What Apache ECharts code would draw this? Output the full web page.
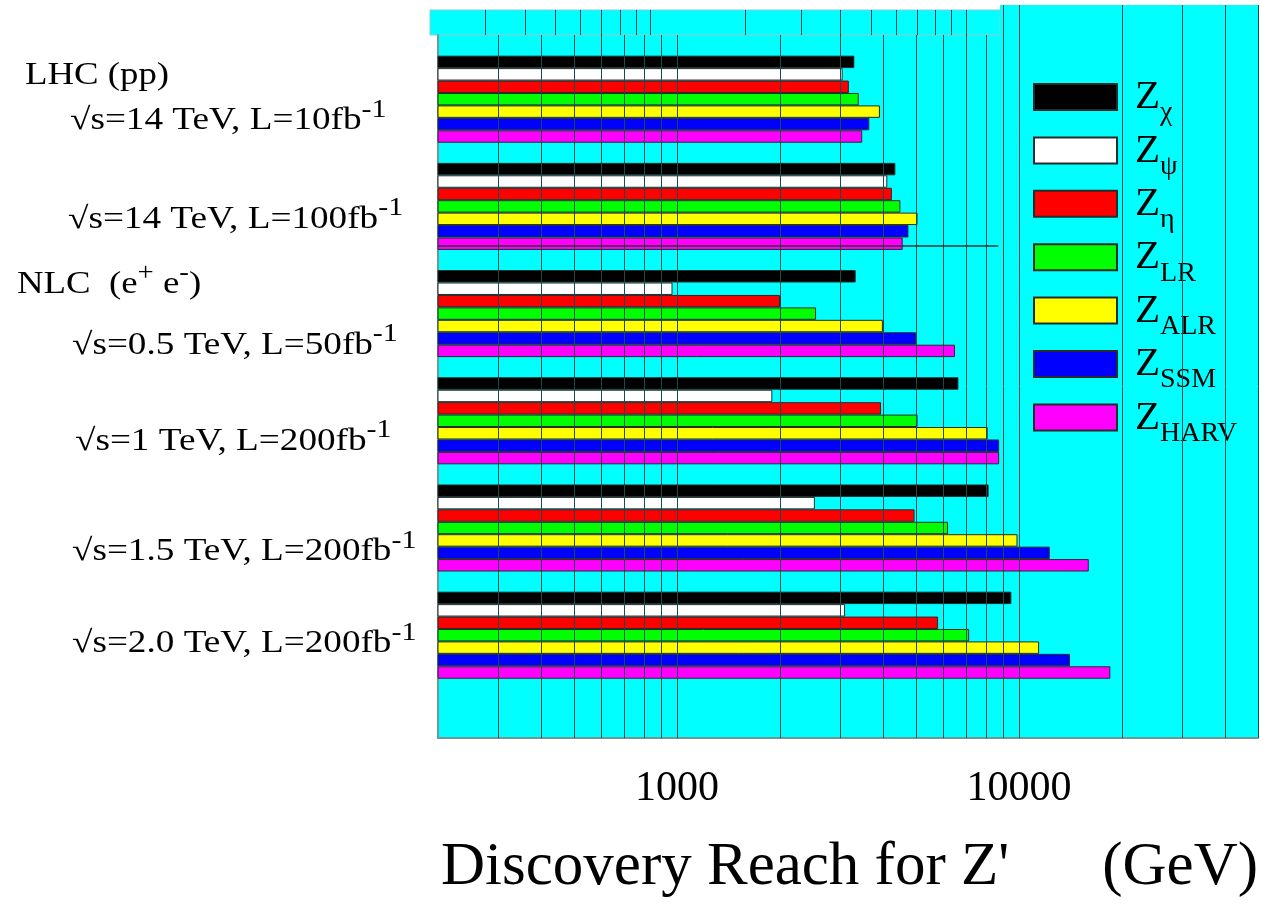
<!DOCTYPE html>
<html><head><meta charset="utf-8">
<script src="https://cdn.jsdelivr.net/npm/echarts@6/dist/echarts.min.js"></script>
<style>html,body{margin:0;padding:0;background:#fff}#c{width:1263px;height:910px}</style>
</head><body><div id="c"></div>
<script>
// ---------------- data ----------------
const categories = ['LHC 14TeV 10fb-1', 'LHC 14TeV 100fb-1', 'NLC 0.5TeV 50fb-1', 'NLC 1TeV 200fb-1', 'NLC 1.5TeV 200fb-1', 'NLC 2.0TeV 200fb-1'];
const categoryText = [
  ['√s=14 TeV, L=10fb', '-1'],
  ['√s=14 TeV, L=100fb', '-1'],
  ['√s=0.5 TeV, L=50fb', '-1'],
  ['√s=1 TeV, L=200fb', '-1'],
  ['√s=1.5 TeV, L=200fb', '-1'],
  ['√s=2.0 TeV, L=200fb', '-1']
];
const modelSubs = ['χ', 'ψ', 'η', 'LR', 'ALR', 'SSM', 'HARV'];
const modelNames = modelSubs.map(s => 'Z' + s);
const Zchi  = [3300, 4350, 3330, 6650, 8150, 9500];
const Zpsi  = [3050, 4120, 970, 1900, 2530, 3100];
const Zeta  = [3180, 4250, 2000, 3950, 4950, 5800];
const ZLR   = [3400, 4500, 2550, 5050, 6200, 7150];
const ZALR  = [3920, 5050, 4000, 8100, 9900, 11450];
const ZSSM  = [3650, 4750, 5000, 8750, 12300, 14100];
const ZHARV = [3480, 4570, 6500, 8750, 16000, 18500];
const seriesValues = [Zchi, Zpsi, Zeta, ZLR, ZALR, ZSSM, ZHARV];
const xTickLabels = [1000, 10000];
const gridLineValues = [300, 400, 500, 600, 700, 800, 900, 1000,
  2000, 3000, 4000, 5000, 6000, 7000, 8000, 9000, 10000,
  20000, 30000, 40000, 50000];

// ---------------- style / layout ----------------
const FONT = "'Liberation Serif','Times New Roman',serif";
const colors = ['#000000', '#ffffff', '#ff0000', '#00ff00', '#ffff00', '#0000ff', '#ff00ff'];
const CYAN = '#00ffff';
const GRIDLINE = '#1f4a4a';
const labelLeft = [70, 68, 72, 75, 72, 72];
const labelBaselineOffset = [28, 19, 38, 27, 30, 15];

function gridSeries(xi, lo, hi) {
  return {
    type: 'line', xAxisIndex: xi, yAxisIndex: xi, data: [], silent: true, z: 1,
    markLine: {
      silent: true, animation: false, symbol: ['none', 'none'], label: { show: false },
      lineStyle: { color: GRIDLINE, width: 1, type: 'solid' },
      data: gridLineValues.filter(v => v >= lo && v <= hi).map(v => ({ xAxis: v }))
    }
  };
}

const mainGrid = gridSeries(0, 200, 50000);
mainGrid.markLine.data.push([
  { coord: [200, 30], lineStyle: { color: '#333', width: 1.5 } },
  { coord: [8700, 30] }
]);

const barSeries = modelNames.map((n, i) => ({
  name: n, type: 'bar', xAxisIndex: 1, yAxisIndex: 1, z: 3,
  data: seriesValues[i], barGap: '0%', barCategoryGap: '18.8%',
  itemStyle: { color: colors[i], borderColor: '#2a2a2a', borderWidth: 1 }
}));

const chart = echarts.init(document.getElementById('c'), null, { renderer: 'canvas' });
const option = {
  animation: false,
  backgroundColor: '#ffffff',
  title: [
    { text: "Discovery Reach for Z'", left: 441, top: 837, padding: 0,
      textStyle: { fontFamily: FONT, fontSize: 61, fontWeight: 'normal', color: '#000' } },
    { text: '(GeV)', right: 5, top: 837, padding: 0,
      textStyle: { fontFamily: FONT, fontSize: 61, fontWeight: 'normal', color: '#000' } }
  ],
  grid: [
    { left: 438, right: 5, top: 35, bottom: 172, show: true, backgroundColor: CYAN, borderWidth: 0 },
    { left: 438, right: 5, top: 45.6, bottom: 221.2, show: false },
    { left: 430, right: 263, top: 10, height: 25, show: true, backgroundColor: CYAN, borderColor: '#8cc', borderWidth: 1 },
    { left: 1000, right: 5, top: 5, height: 30, show: true, backgroundColor: CYAN, borderWidth: 0 }
  ],
  xAxis: [
    { type: 'log', logBase: 10, min: 200, max: 50000, gridIndex: 0,
      axisLine: { show: true, onZero: false, lineStyle: { color: '#6a9a9a', width: 2 } },
      axisTick: { show: false }, splitLine: { show: false },
      axisLabel: {
        show: true, margin: 30, fontFamily: FONT, fontSize: 42, color: '#000',
        showMinLabel: true, showMaxLabel: true,
        formatter: v => { const r = Math.round(v); return xTickLabels.includes(r) ? String(r) : ''; }
      } },
    { type: 'log', logBase: 10, min: 200, max: 50000, gridIndex: 1, show: false },
    { type: 'log', logBase: 10, min: 200, max: 12800, gridIndex: 2, show: false },
    { type: 'log', logBase: 10, min: 8800, max: 50000, gridIndex: 3, show: false }
  ],
  yAxis: [
    { type: 'value', gridIndex: 0, min: 0, max: 100, inverse: true,
      axisLine: { show: true, lineStyle: { color: '#6a9a9a', width: 2 } },
      axisLabel: { show: false }, axisTick: { show: false }, splitLine: { show: false } },
    { type: 'category', gridIndex: 1, data: categories, inverse: true, show: false },
    { type: 'value', gridIndex: 2, min: 0, max: 1, show: false },
    { type: 'value', gridIndex: 3, min: 0, max: 1, show: false }
  ],
  legend: {
    data: modelNames, orient: 'vertical', left: 1033, top: 77,
    itemWidth: 83, itemHeight: 26, itemGap: 3.4, icon: 'rect',
    selectedMode: false, padding: 0,
    formatter: name => '{z|Z}{s|' + modelSubs[modelNames.indexOf(name)] + '}',
    textStyle: {
      fontFamily: FONT, color: '#000',
      rich: {
        z: { fontFamily: FONT, fontSize: 41, lineHeight: 40, verticalAlign: 'top', padding: [0, 0, 0, 13], color: '#000' },
        s: { fontFamily: FONT, fontSize: 28, lineHeight: 28, verticalAlign: 'top', padding: [22, 0, 0, 0], color: '#000' }
      }
    }
  },
  series: [mainGrid, gridSeries(2, 200, 12800), gridSeries(3, 8800, 50000)].concat(barSeries)
};
chart.setOption(option);

// ---------------- text labels on the left ----------------
function richText(x, y, text, size, supSize, sx) {
  return {
    type: 'text', x: x, y: y, scaleX: sx, z: 10, silent: true,
    style: {
      text: text, align: 'left', verticalAlign: 'middle', fill: '#000',
      fontFamily: FONT, fontSize: size,
      rich: {
        m: { fontFamily: FONT, fontSize: size, lineHeight: size, padding: [8, 0, 0, 0], verticalAlign: 'top', fill: '#000' },
        p: { fontFamily: FONT, fontSize: supSize, lineHeight: supSize, verticalAlign: 'top', fill: '#000' }
      }
    }
  };
}
const graphics = [];
categories.forEach((c, i) => {
  const cy = chart.convertToPixel({ yAxisIndex: 1 }, c);
  const baseline = cy + labelBaselineOffset[i];
  graphics.push(richText(labelLeft[i], baseline - 14,
    '{m|' + categoryText[i][0] + '}{p|' + categoryText[i][1] + '}', 31, 25, 1.2));
});
graphics.push(richText(25, 83 - 15, '{m|LHC (pp)}', 32, 25, 1.15));
graphics.push(richText(17, 292 - 15, '{m|NLC  (e}{p|+}{m| e}{p|-}{m|)}', 32, 25, 1.15));
chart.setOption({ graphic: graphics });
</script>
</body></html>
